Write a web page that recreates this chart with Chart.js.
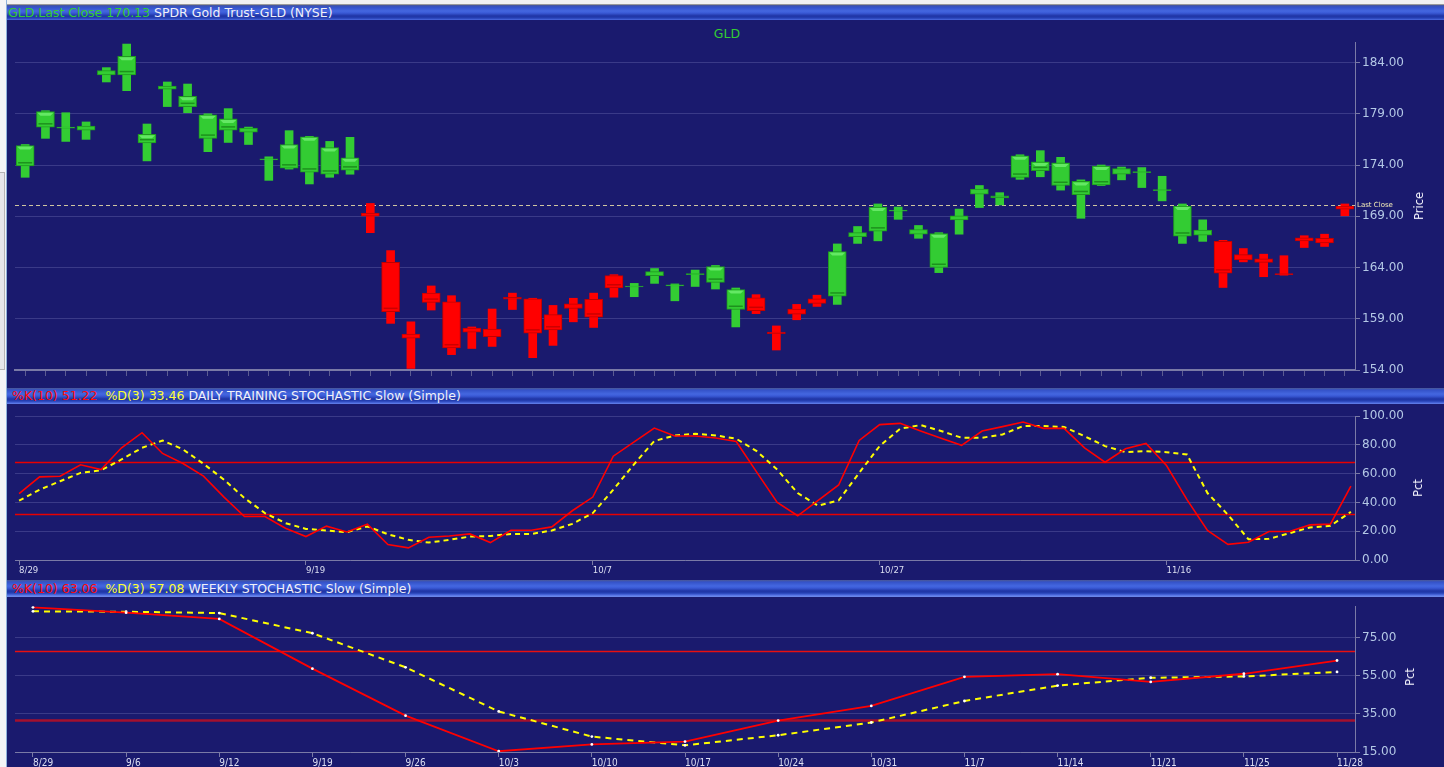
<!DOCTYPE html>
<html>
<head>
<meta charset="utf-8">
<script src="https://cdn.jsdelivr.net/npm/chart.js@4.4.1/dist/chart.umd.min.js"></script>
<style>
  html, body { margin:0; padding:0; }
  body { width:1444px; height:767px; background:#1a1a6e; position:relative; overflow:hidden; font-family:'DejaVu Sans', sans-serif; }
  canvas { position:absolute; left:0; }
  .hdr { position:absolute; left:7px; right:0; font-size:12.5px; line-height:16px; white-space:pre; padding-left:5px;
         background:linear-gradient(to bottom,#4b5896 0px,#3452c8 2px,#4467e0 6px,#3a5ad6 8px,#1f34a4 11px,#2540b4 13px,#4d6be0 15px,#6a86ea 16px); }
  .g { color:#33cc33; } .w { color:#f0f0f8; } .r { color:#ff0a0a; } .y { color:#ffff33; }
  .rot { position:absolute; color:#f0f0fa; font-size:11.5px; transform:translate(-50%,-50%) rotate(-90deg); white-space:nowrap; }
  #top { position:absolute; left:0; top:0; width:1444px; height:4px; background:#f2f2f2; border-bottom:1px solid #9a9a9a; z-index:5; }
  #left { position:absolute; left:0; top:0; width:6px; height:767px; background:#f4f4f6; border-right:1px solid #8fb2dc; z-index:5; }
  #split { position:absolute; left:0; top:172px; width:4px; height:196px; border:1px solid #b4b4b4; border-left:none; background:#e6e6ea; z-index:6; }
</style>
</head>
<body>
<div id="top"></div>
<div id="left"></div>
<div id="split"></div>

<div class="hdr" style="top:5px;height:15px;line-height:15px;padding-left:1px;"><span class="g">GLD.Last Close 170.13</span> <span class="w">SPDR Gold Trust-GLD (NYSE)</span></div>
<div style="position:absolute;left:690px;width:74px;top:26px;text-align:center;color:#33cc33;font-size:12.5px;">GLD</div>
<canvas id="c1" width="1444" height="368" style="top:20px"></canvas>
<div class="rot" style="left:1419px;top:206px;">Price</div>

<div class="hdr" style="top:388px;height:16px;"><span class="r">%K(10) 51.22</span>  <span class="y">%D(3) 33.46</span> <span class="w">DAILY TRAINING STOCHASTIC Slow (Simple)</span></div>
<canvas id="c2" width="1444" height="176" style="top:404px"></canvas>
<div class="rot" style="left:1418px;top:488px;">Pct</div>

<div class="hdr" style="top:580px;height:17px;line-height:17px;"><span class="r">%K(10) 63.06</span>  <span class="y">%D(3) 57.08</span> <span class="w">WEEKLY STOCHASTIC Slow (Simple)</span></div>
<canvas id="c3" width="1444" height="170" style="top:597px"></canvas>
<div class="rot" style="left:1410px;top:677px;">Pct</div>

<script>
// ---------------- DATA ----------------
const dailyDates = ['8/29','8/30','8/31','9/1','9/2','9/6','9/7','9/8','9/9','9/12','9/13','9/14','9/15','9/16','9/19','9/20','9/21','9/22','9/23','9/26','9/27','9/28','9/29','9/30','10/3','10/4','10/5','10/6','10/7','10/10','10/11','10/12','10/13','10/14','10/17','10/18','10/19','10/20','10/21','10/24','10/25','10/26','10/27','10/28','10/31','11/1','11/2','11/3','11/4','11/7','11/8','11/9','11/10','11/11','11/14','11/15','11/16','11/17','11/18','11/21','11/22','11/23','11/25','11/28','11/29','11/30'];

const opens  = [173.9,177.7,177.6,177.4,182.8,182.8,176.15,181.4,179.7,176.6,177.4,177.2,174.5,173.7,173.3,173.1,173.5,169.3,164.5,157.5,161.5,160.65,158.1,158.0,161.1,160.95,159.4,160.45,160.9,163.2,162.1,163.2,162.2,163.3,162.55,159.9,161.05,157.7,159.95,160.95,161.2,167.0,167.55,169.5,167.25,164.0,168.65,171.15,170.8,172.8,173.45,172.0,171.1,172.05,173.1,173.25,171.5,167.05,167.15,166.55,165.25,164.85,163.35,166.9,166.85,170.0];
const highs  = [176.0,179.3,179.1,178.2,183.5,185.8,178.0,182.1,181.9,179.0,179.5,177.7,174.8,177.35,176.8,176.3,176.7,170.25,165.65,158.7,162.2,161.25,158.2,159.95,161.5,161.0,160.3,161.0,161.5,163.3,162.45,163.9,162.4,163.75,164.2,162.0,161.35,158.3,160.4,161.3,166.3,168.0,170.2,169.9,168.1,167.4,169.7,172.0,171.3,175.0,175.4,174.75,172.55,174.0,173.8,173.75,172.9,170.2,168.65,166.65,165.85,165.3,165.15,167.1,167.25,170.2];
const lows   = [172.8,176.6,176.3,176.5,182.1,181.25,174.4,179.7,179.1,175.3,176.2,176.0,172.5,173.6,172.15,172.8,173.1,167.4,158.55,154.15,159.85,155.5,156.1,156.3,159.9,155.2,156.4,158.7,158.15,161.1,161.15,162.45,160.75,162.15,161.9,158.2,159.5,155.95,158.9,160.2,160.4,166.35,166.6,168.7,166.85,163.5,167.25,169.85,170.1,172.6,172.85,171.55,168.8,172.0,172.55,171.8,170.5,166.35,166.55,162.05,164.55,163.1,163.25,165.95,166.05,169.05];
const closes = [175.9,179.2,177.65,177.8,183.2,184.6,177.0,181.7,180.7,178.9,178.5,177.6,174.55,176.0,176.75,175.7,174.7,169.0,159.7,157.1,160.6,156.15,157.7,157.25,160.9,157.6,157.9,160.0,159.15,162.0,162.15,163.6,162.25,163.35,164.1,161.85,159.8,157.55,159.45,160.5,165.55,167.4,169.9,169.55,167.7,167.3,169.05,171.65,171.0,174.9,174.3,174.2,172.4,173.9,173.65,173.3,171.55,170.0,167.65,163.45,164.75,164.5,163.3,166.6,166.4,169.7];
const lastClose = 170.13;
const priceTicks = [154,159,164,169,174,179,184];

const dailyK = [46.1,57.7,58.2,66.1,62.8,77.9,88.4,74,67,58.2,43.7,30.2,30.2,22.1,16.3,23.5,19.5,24.9,10.7,8.4,15.8,16.7,18.1,12.1,20.7,20.7,23,34.2,43.7,72.1,81.9,91.6,86.1,86.1,84.7,82.3,61,40,30.7,41.4,52.1,83,94,94.9,89.6,84.5,79.6,89.6,92.6,95.8,91.4,91.4,77.9,67.9,77.2,81,65.6,41.9,20.5,10.9,12.3,19.8,19.8,24.4,24.9,51.22];
const dailyD = [41.2,48.8,54.7,60.5,62.3,69.8,77.9,83.0,76.8,66.8,55.8,43,32.6,25.6,21.6,20.5,19.3,23.3,17.9,14,12.1,14,16.3,16.7,18.1,18.1,20.5,25.1,32.6,48.8,66.3,82.6,86.5,87.7,86.5,84.2,75.6,62.8,46.5,37.7,41.4,60.5,79.1,91.2,93.7,89.6,84.9,84.9,87.2,93,93,92.4,86,79.1,74.9,75.6,74.9,73.3,46.5,31.4,14.4,14.7,18.6,22.6,23.7,33.46];
const dailyTickIdx = [0,14,28,42,56];
const dailyTicks = [0,20,40,60,80,100];
const dailyLevels = [68,32];

const weeklyDates = ['8/29','9/6','9/12','9/19','9/26','10/3','10/10','10/17','10/24','10/31','11/7','11/14','11/21','11/25','11/28'];
const weeklyK = [91.0,88.2,84.9,58.8,34.1,15.4,19.0,20.5,31.5,39.2,54.5,55.9,51.8,56.1,63.06];
const weeklyD = [88.9,88.7,88.0,77.4,59.5,36.3,23.1,18.5,23.8,30.5,41.8,49.9,54.0,54.7,57.08];
const weeklyTicks = [15,35,55,75];
const weeklyLevels = [68,32];

// ---------------- STYLE ----------------
const GRID = '#3a3a88';
const AXIS = '#7a7aa6';
const TICKLBL = '#b4c8e6';
const UP = '#33cc33', UP_B = '#1f9a1f';
const DN = '#ff0000', DN_B = '#c00000';

const hLinePlugin = {
  id: 'hlines',
  beforeDatasetsDraw(chart, args, opts) {
    const { ctx, chartArea, scales } = chart;
    (opts.lines || []).forEach(l => {
      const py = Math.round(scales.y.getPixelForValue(l.value)) + 0.5;
      ctx.save();
      ctx.strokeStyle = l.color; ctx.lineWidth = l.width;
      if (l.dash) ctx.setLineDash(l.dash);
      ctx.beginPath(); ctx.moveTo(chartArea.left, py); ctx.lineTo(chartArea.right, py); ctx.stroke();
      if (l.label) {
        ctx.setLineDash([]);
        ctx.fillStyle = l.labelColor; ctx.font = '7px "DejaVu Sans"';
        ctx.textBaseline = 'middle'; ctx.textAlign = 'left';
        ctx.fillText(l.label, chartArea.right + 2, py);
      }
      ctx.restore();
    });
  }
};

// bevel shading on the candle bodies, placed from the library's own bar elements
const bevelPlugin = {
  id: 'bevel',
  afterDatasetsDraw(chart) {
    const meta = chart.getDatasetMeta(0);
    const ctx = chart.ctx;
    meta.data.forEach((el, i) => {
      const p = el.getProps(['x', 'y', 'base', 'width'], true);
      const top = Math.min(p.y, p.base), bot = Math.max(p.y, p.base), h = bot - top;
      const left = p.x - p.width / 2, w = p.width;
      if (h < 8) return;
      ctx.save();
      if (isUp[i]) {
        ctx.fillStyle = 'rgba(140,255,140,0.55)';
        ctx.beginPath(); ctx.moveTo(left + 1, top + 1); ctx.lineTo(left + w - 1, top + 1);
        ctx.lineTo(left + w - 4, top + 4); ctx.lineTo(left + 4, top + 4); ctx.closePath(); ctx.fill();
        ctx.fillStyle = 'rgba(20,120,20,0.7)';
        ctx.fillRect(left + 2, bot - 4, w - 4, 1.5);
      } else {
        ctx.fillStyle = 'rgba(170,0,0,0.6)';
        ctx.fillRect(left + 2, bot - 4, w - 4, 1.5);
      }
      ctx.restore();
    });
  }
};

function yAxis(ticksArr, min, max) {
  return {
    position: 'right', min, max,
    afterBuildTicks: s => { s.ticks = ticksArr.map(v => ({ value: v })); },
    afterFit: s => { s.width = 89; },
    grid: { color: GRID, tickColor: AXIS, tickLength: 5, lineWidth: 1 },
    border: { color: AXIS, width: 1 },
    ticks: { color: TICKLBL, padding: 2, font: { family: 'DejaVu Sans', size: 12 }, callback: v => Number(v).toFixed(2) }
  };
}

const common = {
  responsive: false, animation: false, devicePixelRatio: 1, events: [],
};

// ---------------- PRICE ----------------
const isUp = closes.map((c, i) => c >= opens[i]);
new Chart(document.getElementById('c1'), {
  type: 'bar',
  data: {
    labels: dailyDates,
    datasets: [
      { label: 'Body', data: opens.map((o, i) => [o, closes[i]]),
        backgroundColor: isUp.map(u => u ? UP : DN), borderColor: isUp.map(u => u ? UP_B : DN_B),
        borderWidth: 1, borderSkipped: false, barThickness: 18, minBarLength: 1, grouped: false, order: 1 },
      { label: 'Range', data: lows.map((l, i) => [l, highs[i]]),
        backgroundColor: isUp.map(u => u ? UP : DN), borderWidth: 0, barThickness: 8, grouped: false, order: 2 }
    ]
  },
  options: Object.assign({}, common, {
    layout: { padding: { left: 15, top: 22, right: 0, bottom: 0 } },
    plugins: { legend: { display: false }, tooltip: { enabled: false },
      hlines: { lines: [{ value: lastClose, color: '#cfc6a0', width: 1, dash: [4, 3], label: 'Last Close', labelColor: '#f4ecb8' }] } },
    scales: {
      x: { offset: true, grid: { offset: false, drawOnChartArea: false, drawTicks: true, tickLength: 6, color: '#5c5c92' },
           border: { color: AXIS, width: 2 }, ticks: { display: false, autoSkip: false },
           afterFit: s => { s.height = 18; } },
      y: yAxis(priceTicks, 154, 186)
    }
  }),
  plugins: [hLinePlugin, bevelPlugin]
});

// ---------------- DAILY STOCHASTIC ----------------
function xLinear(labels, tickIdx, min, max, h, fontSize) {
  return {
    type: 'linear', min, max,
    afterBuildTicks: s => { s.ticks = tickIdx.map(v => ({ value: v })); },
    afterFit: s => { s.height = h; },
    grid: { drawOnChartArea: false, drawTicks: true, tickLength: 5, color: AXIS },
    border: { color: AXIS, width: 1 },
    ticks: { color: '#dcdff2', align: 'start', padding: 0, maxRotation: 0, autoSkip: false,
             font: { family: 'DejaVu Sans Condensed', size: fontSize }, callback: v => labels[v] }
  };
}

new Chart(document.getElementById('c2'), {
  type: 'line',
  data: {
    datasets: [
      { label: '%K', data: dailyK.map((v, i) => ({ x: i, y: v })), borderColor: '#ff0000', borderWidth: 1.6, pointRadius: 0, tension: 0, order: 1 },
      { label: '%D', data: dailyD.map((v, i) => ({ x: i, y: v })), borderColor: '#ffff00', borderWidth: 2, borderDash: [5, 4], pointRadius: 0, tension: 0, order: 2 }
    ]
  },
  options: Object.assign({}, common, {
    layout: { padding: { left: 15, top: 12, right: 0, bottom: 0 } },
    plugins: { legend: { display: false }, tooltip: { enabled: false },
      hlines: { lines: dailyLevels.map(v => ({ value: v, color: '#e80000', width: 1.5 })) } },
    scales: {
      x: xLinear(dailyDates, dailyTickIdx, -0.2, 65.2, 20, 9.5),
      y: yAxis(dailyTicks, 0, 100)
    }
  }),
  plugins: [hLinePlugin]
});

// ---------------- WEEKLY STOCHASTIC ----------------
new Chart(document.getElementById('c3'), {
  type: 'line',
  data: {
    datasets: [
      { label: '%K', data: weeklyK.map((v, i) => ({ x: i, y: v })), borderColor: '#ff0000', borderWidth: 1.8,
        pointRadius: 1.4, pointBackgroundColor: '#ffffff', pointBorderWidth: 0, tension: 0, order: 1 },
      { label: '%D', data: weeklyD.map((v, i) => ({ x: i, y: v })), borderColor: '#ffff00', borderWidth: 2, borderDash: [6, 5],
        pointRadius: 1.4, pointBackgroundColor: '#ffffff', pointBorderWidth: 0, tension: 0, order: 2 }
    ]
  },
  options: Object.assign({}, common, {
    layout: { padding: { left: 15, top: 6, right: 0, bottom: 0 } },
    plugins: { legend: { display: false }, tooltip: { enabled: false },
      hlines: { lines: [{ value: weeklyLevels[0], color: '#e81010', width: 1.5 }, { value: weeklyLevels[1], color: '#a4102e', width: 2.5 }] } },
    scales: {
      x: xLinear(weeklyDates, weeklyDates.map((d, i) => i), -0.193, 14.193, 15, 10),
      y: yAxis(weeklyTicks, 15, 91.6)
    }
  }),
  plugins: [hLinePlugin]
});
</script>
</body>
</html>
